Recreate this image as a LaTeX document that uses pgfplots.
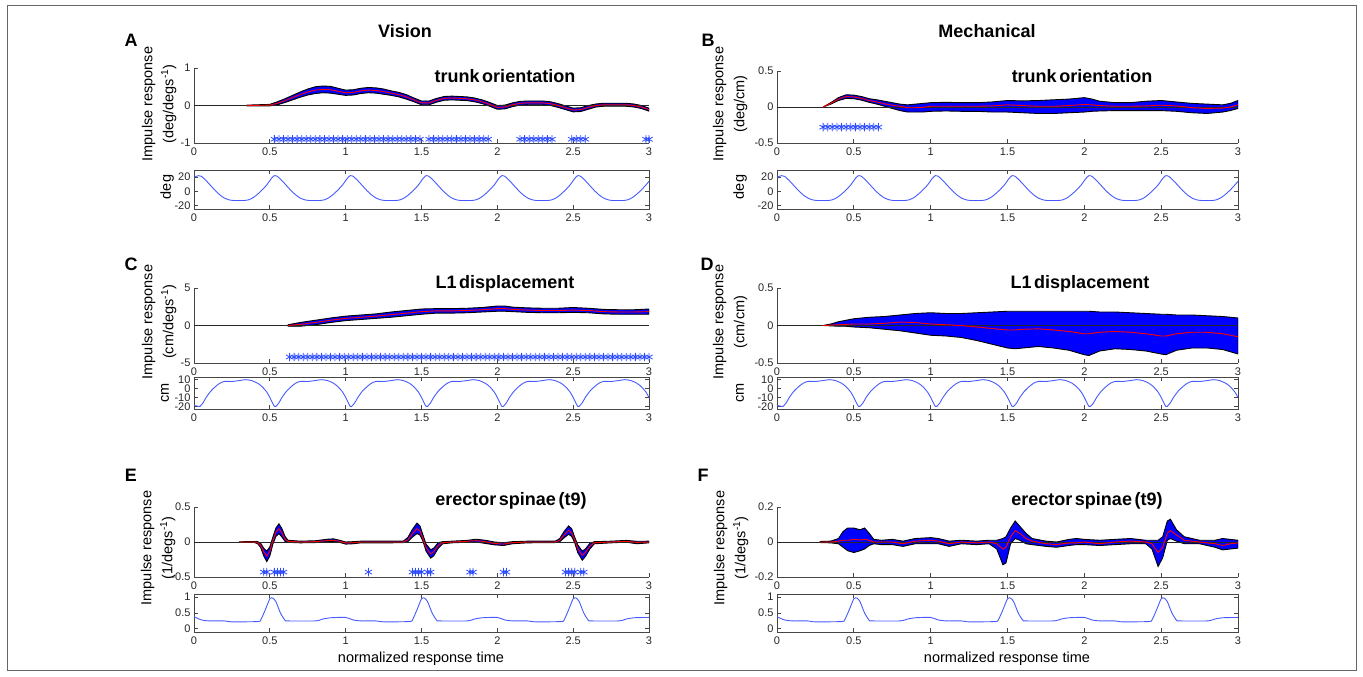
\documentclass[border=0pt]{standalone}
\usepackage{fontspec}
\setmainfont{Liberation Sans}
\usepackage{pgfplots}
\usepackage{pgfplotstable}
\pgfplotsset{compat=1.18}

\definecolor{bandblue}{RGB}{0,0,255}
\definecolor{stimblue}{RGB}{70,90,255}
\definecolor{starblue}{RGB}{45,75,255}
\definecolor{axisgray}{RGB}{70,70,70}

% stimulus traces (same in both columns)
\pgfplotstableread{
x y
0 20
0.03 22
0.05 21
0.08 15
0.11 8
0.14 1
0.17 -5
0.20 -9.5
0.23 -12
0.26 -13
0.33 -13
0.36 -12
0.39 -9
0.42 -4
0.45 2
0.48 9
0.51 18
0.53 22
0.55 21
0.58 15
0.61 8
0.64 1
0.67 -5
0.70 -9.5
0.73 -12
0.76 -13
0.83 -13
0.86 -12
0.89 -9
0.92 -4
0.95 2
0.98 9
1.01 18
1.03 22
1.05 21
1.08 15
1.11 8
1.14 1
1.17 -5
1.20 -9.5
1.23 -12
1.26 -13
1.33 -13
1.36 -12
1.39 -9
1.42 -4
1.45 2
1.48 9
1.51 18
1.53 22
1.55 21
1.58 15
1.61 8
1.64 1
1.67 -5
1.70 -9.5
1.73 -12
1.76 -13
1.83 -13
1.86 -12
1.89 -9
1.92 -4
1.95 2
1.98 9
2.01 18
2.03 22
2.05 21
2.08 15
2.11 8
2.14 1
2.17 -5
2.20 -9.5
2.23 -12
2.26 -13
2.33 -13
2.36 -12
2.39 -9
2.42 -4
2.45 2
2.48 9
2.51 18
2.53 22
2.55 21
2.58 15
2.61 8
2.64 1
2.67 -5
2.70 -9.5
2.73 -12
2.76 -13
2.83 -13
2.86 -12
2.89 -9
2.92 -4
2.95 2
2.98 9
3.00 14
}\stimdeg

\pgfplotstableread{
x y
0 -19
0.03 -20
0.04 -20
0.06 -16
0.08 -10
0.11 -3
0.14 2
0.17 6
0.20 8
0.25 8
0.30 9
0.34 10
0.38 9
0.42 6
0.45 2
0.48 -4
0.50 -10
0.52 -17
0.53 -20
0.54 -20
0.56 -16
0.58 -10
0.61 -3
0.64 2
0.67 6
0.70 8
0.75 8
0.80 9
0.84 10
0.88 9
0.92 6
0.95 2
0.98 -4
1.00 -10
1.02 -17
1.03 -20
1.04 -20
1.06 -16
1.08 -10
1.11 -3
1.14 2
1.17 6
1.20 8
1.25 8
1.30 9
1.34 10
1.38 9
1.42 6
1.45 2
1.48 -4
1.50 -10
1.52 -17
1.53 -20
1.54 -20
1.56 -16
1.58 -10
1.61 -3
1.64 2
1.67 6
1.70 8
1.75 8
1.80 9
1.84 10
1.88 9
1.92 6
1.95 2
1.98 -4
2.00 -10
2.02 -17
2.03 -20
2.04 -20
2.06 -16
2.08 -10
2.11 -3
2.14 2
2.17 6
2.20 8
2.25 8
2.30 9
2.34 10
2.38 9
2.42 6
2.45 2
2.48 -4
2.50 -10
2.52 -17
2.53 -20
2.54 -20
2.56 -16
2.58 -10
2.61 -3
2.64 2
2.67 6
2.70 8
2.75 8
2.80 9
2.84 10
2.88 9
2.92 6
2.95 2
2.98 -4
3.00 -10
}\stimcm

\pgfplotstableread{
x y
0 0.38
0.05 0.28
0.10 0.25
0.20 0.25
0.25 0.22
0.42 0.23
0.44 0.28
0.47 0.60
0.50 0.95
0.52 0.97
0.54 0.86
0.57 0.50
0.60 0.27
0.62 0.25
0.80 0.25
0.85 0.31
0.90 0.35
1.00 0.36
1.05 0.28
1.10 0.25
1.20 0.25
1.25 0.22
1.42 0.23
1.44 0.28
1.47 0.60
1.50 0.95
1.52 0.97
1.54 0.86
1.57 0.50
1.60 0.27
1.62 0.25
1.80 0.25
1.85 0.31
1.90 0.35
2.00 0.36
2.05 0.28
2.10 0.25
2.20 0.25
2.25 0.22
2.42 0.23
2.44 0.28
2.47 0.60
2.50 0.95
2.52 0.97
2.54 0.86
2.57 0.50
2.60 0.27
2.62 0.25
2.80 0.25
2.85 0.31
2.90 0.35
3.00 0.36
}\stimemg

% impulse responses: mean and band
\pgfplotstableread{
x m lo hi
0.35 0.00 -0.01 0.01
0.50 0.01 -0.01 0.03
0.55 0.06 0.02 0.10
0.60 0.13 0.08 0.18
0.65 0.21 0.15 0.27
0.70 0.29 0.22 0.36
0.75 0.36 0.28 0.44
0.80 0.41 0.32 0.50
0.85 0.43 0.34 0.52
0.90 0.42 0.33 0.51
0.95 0.38 0.30 0.46
1.00 0.34 0.27 0.41
1.05 0.35 0.28 0.42
1.10 0.39 0.32 0.46
1.15 0.41 0.34 0.48
1.20 0.40 0.33 0.47
1.25 0.37 0.30 0.44
1.30 0.33 0.27 0.39
1.35 0.29 0.23 0.35
1.40 0.23 0.17 0.29
1.45 0.15 0.10 0.20
1.50 0.07 0.02 0.12
1.55 0.07 0.02 0.12
1.60 0.14 0.09 0.19
1.65 0.19 0.14 0.24
1.70 0.20 0.15 0.25
1.75 0.19 0.14 0.24
1.80 0.18 0.13 0.23
1.85 0.15 0.10 0.20
1.90 0.10 0.05 0.15
1.95 0.03 -0.02 0.08
2.00 -0.05 -0.10 0.00
2.05 -0.04 -0.09 0.01
2.10 0.02 -0.03 0.07
2.15 0.06 0.01 0.11
2.20 0.07 0.02 0.12
2.25 0.07 0.02 0.12
2.30 0.07 0.02 0.12
2.35 0.05 0.00 0.10
2.40 0.00 -0.05 0.05
2.45 -0.06 -0.11 -0.01
2.50 -0.12 -0.17 -0.07
2.55 -0.11 -0.16 -0.06
2.60 -0.05 -0.10 0.00
2.65 0.00 -0.04 0.04
2.70 0.02 -0.02 0.06
2.75 0.02 -0.02 0.06
2.80 0.02 -0.02 0.06
2.85 0.02 -0.02 0.06
2.90 0.00 -0.04 0.04
2.95 -0.04 -0.08 0.00
3.00 -0.11 -0.15 -0.07
}\dA

\pgfplotstableread{
x m lo hi
0.30 0.00 0.00 0.00
0.35 0.05 0.04 0.06
0.40 0.11 0.09 0.13
0.45 0.145 0.12 0.17
0.50 0.14 0.115 0.165
0.55 0.12 0.095 0.145
0.60 0.09 0.065 0.115
0.65 0.07 0.04 0.10
0.70 0.045 0.01 0.08
0.75 0.025 -0.02 0.06
0.80 0.01 -0.05 0.04
0.85 -0.01 -0.07 0.03
0.90 -0.01 -0.07 0.04
0.95 -0.005 -0.07 0.05
1.00 0.01 -0.06 0.06
1.10 0.01 -0.055 0.065
1.20 0.01 -0.06 0.06
1.30 0.01 -0.06 0.06
1.40 0.015 -0.07 0.07
1.50 0.03 -0.07 0.09
1.60 0.02 -0.08 0.085
1.70 0.01 -0.09 0.09
1.80 0.01 -0.09 0.10
1.90 0.02 -0.08 0.11
2.00 0.035 -0.07 0.13
2.05 0.03 -0.06 0.11
2.10 0.02 -0.055 0.08
2.20 0.01 -0.05 0.06
2.30 0.01 -0.05 0.06
2.40 0.015 -0.05 0.08
2.50 0.025 -0.05 0.09
2.60 0.015 -0.06 0.07
2.70 -0.01 -0.08 0.05
2.80 -0.02 -0.09 0.04
2.90 -0.015 -0.07 0.03
2.95 0.00 -0.05 0.05
3.00 0.03 -0.02 0.09
}\dB

\pgfplotstableread{
x m lo hi
0.62 0.00 -0.10 0.10
0.70 0.15 -0.10 0.40
0.80 0.40 0.10 0.70
0.90 0.70 0.40 1.00
1.00 0.95 0.65 1.25
1.10 1.10 0.80 1.40
1.20 1.25 0.95 1.55
1.30 1.45 1.10 1.80
1.40 1.65 1.30 2.00
1.50 1.85 1.50 2.20
1.60 1.95 1.65 2.25
1.70 1.95 1.65 2.25
1.80 2.00 1.70 2.30
1.90 2.10 1.80 2.40
2.00 2.25 1.90 2.60
2.05 2.25 1.90 2.60
2.10 2.15 1.85 2.45
2.20 2.05 1.75 2.35
2.30 2.00 1.70 2.30
2.40 2.00 1.70 2.30
2.50 2.05 1.75 2.40
2.60 2.00 1.70 2.30
2.70 1.85 1.55 2.15
2.80 1.80 1.50 2.10
2.90 1.80 1.50 2.10
3.00 1.85 1.50 2.20
}\dC

\pgfplotstableread{
x m lo hi
0.30 0.00 0.00 0.00
0.35 0.005 -0.005 0.02
0.40 0.01 -0.01 0.05
0.45 0.015 -0.01 0.07
0.50 0.02 -0.02 0.09
0.60 0.02 -0.03 0.11
0.70 0.03 -0.05 0.12
0.80 0.045 -0.07 0.14
0.90 0.04 -0.10 0.16
1.00 0.02 -0.13 0.17
1.10 0.01 -0.14 0.16
1.20 0.00 -0.16 0.16
1.30 -0.02 -0.20 0.17
1.40 -0.04 -0.25 0.18
1.50 -0.06 -0.30 0.19
1.55 -0.06 -0.31 0.19
1.60 -0.05 -0.30 0.19
1.70 -0.045 -0.28 0.19
1.80 -0.06 -0.30 0.19
1.90 -0.08 -0.33 0.19
2.00 -0.11 -0.39 0.19
2.03 -0.11 -0.40 0.19
2.10 -0.09 -0.34 0.18
2.20 -0.08 -0.31 0.18
2.30 -0.09 -0.32 0.17
2.40 -0.11 -0.34 0.16
2.50 -0.14 -0.38 0.15
2.53 -0.14 -0.39 0.15
2.60 -0.11 -0.33 0.14
2.70 -0.09 -0.30 0.14
2.80 -0.09 -0.30 0.13
2.90 -0.11 -0.32 0.12
3.00 -0.15 -0.38 0.10
}\dD

\pgfplotstableread{
x m lo hi
0.30 0.00 -0.003 0.003
0.40 0.00 -0.008 0.008
0.42 -0.01 -0.025 0.005
0.44 -0.05 -0.08 -0.02
0.46 -0.14 -0.20 -0.09
0.48 -0.20 -0.28 -0.13
0.50 -0.13 -0.20 -0.07
0.52 0.02 -0.03 0.07
0.54 0.14 0.08 0.20
0.56 0.19 0.12 0.26
0.58 0.13 0.07 0.19
0.60 0.04 0.01 0.08
0.62 0.01 -0.005 0.025
0.70 0.00 -0.012 0.012
0.80 0.005 -0.008 0.018
0.88 0.02 0.005 0.04
0.92 0.025 0.005 0.045
0.96 0.01 -0.005 0.025
1.00 -0.015 -0.03 0.00
1.05 -0.01 -0.025 0.005
1.10 0.00 -0.012 0.012
1.30 0.00 -0.012 0.012
1.38 0.00 -0.008 0.012
1.41 0.03 0.005 0.065
1.44 0.12 0.07 0.18
1.47 0.19 0.12 0.27
1.49 0.16 0.10 0.23
1.51 0.05 0.01 0.10
1.53 -0.08 -0.13 -0.03
1.56 -0.17 -0.23 -0.11
1.58 -0.14 -0.20 -0.09
1.61 -0.05 -0.09 -0.01
1.64 -0.01 -0.025 0.005
1.70 0.00 -0.012 0.012
1.80 0.01 -0.003 0.023
1.86 0.02 0.00 0.04
1.92 0.005 -0.02 0.025
1.98 -0.02 -0.04 0.00
2.04 -0.03 -0.05 -0.01
2.10 -0.01 -0.025 0.005
2.20 0.00 -0.012 0.012
2.38 0.00 -0.008 0.012
2.41 0.02 0.00 0.045
2.44 0.10 0.06 0.15
2.47 0.165 0.11 0.23
2.49 0.13 0.08 0.19
2.51 0.03 -0.01 0.07
2.53 -0.09 -0.15 -0.04
2.56 -0.19 -0.26 -0.13
2.58 -0.15 -0.21 -0.10
2.61 -0.06 -0.10 -0.02
2.64 -0.01 -0.025 0.005
2.75 0.00 -0.012 0.012
2.85 0.01 -0.003 0.023
2.92 -0.005 -0.025 0.01
3.00 0.00 -0.012 0.012
}\dE

\pgfplotstableread{
x m lo hi
0.28 0.00 -0.003 0.003
0.35 0.00 -0.005 0.005
0.40 0.005 -0.01 0.02
0.43 0.01 -0.03 0.06
0.46 0.01 -0.05 0.08
0.50 0.015 -0.06 0.08
0.54 0.012 -0.05 0.07
0.57 0.015 -0.04 0.08
0.60 0.01 -0.02 0.05
0.63 0.00 -0.01 0.015
0.68 0.00 -0.015 0.01
0.75 0.00 -0.015 0.015
0.82 -0.01 -0.025 0.005
0.90 0.005 -0.01 0.02
1.00 0.01 -0.01 0.025
1.05 0.005 -0.01 0.02
1.12 -0.01 -0.025 0.005
1.20 0.00 -0.01 0.01
1.30 -0.005 -0.015 0.005
1.38 0.00 -0.01 0.01
1.43 -0.01 -0.04 0.01
1.47 -0.04 -0.13 0.02
1.49 -0.03 -0.12 0.03
1.52 0.03 -0.01 0.08
1.55 0.065 0.02 0.12
1.58 0.05 0.01 0.09
1.62 0.02 -0.01 0.05
1.66 0.005 -0.015 0.02
1.75 -0.01 -0.025 0.005
1.82 -0.015 -0.03 0.00
1.90 -0.005 -0.02 0.015
1.95 -0.005 -0.015 0.02
2.00 0.00 -0.015 0.015
2.10 -0.01 -0.02 0.01
2.20 0.00 -0.015 0.015
2.30 0.005 -0.01 0.02
2.40 0.00 -0.01 0.01
2.44 -0.01 -0.04 0.01
2.48 -0.06 -0.14 0.01
2.51 -0.03 -0.09 0.03
2.54 0.05 0.01 0.12
2.56 0.065 0.02 0.13
2.60 0.04 0.005 0.07
2.65 0.01 -0.01 0.03
2.75 0.00 -0.01 0.01
2.85 -0.01 -0.03 0.01
2.90 -0.02 -0.045 0.02
2.95 -0.01 -0.04 0.015
3.00 -0.005 -0.035 0.01
}\dF

\pgfplotsset{
  panel/.style={scale only axis, xmin=0, xmax=3,
    xtick={0,0.5,1,1.5,2,2.5,3}, xticklabels={0,0.5,1,1.5,2,2.5,3},
    tick align=inside, major tick length=4pt,
    axis line style={axisgray, line width=0.8pt},
    every tick/.style={axisgray, line width=0.8pt},
    tick label style={font=\fontsize{11}{12}\selectfont, text=black!85},
    xticklabel style={yshift=-1.5pt}},
  resp/.style={panel, axis lines*=left, xtick pos=left, ytick pos=left},
  stim/.style={panel, tick pos=both},
  left col/.style={width=455pt},
  right col/.style={width=461pt},
  stars/.style={only marks, mark=asterisk, mark size=4.2pt, starblue,
    mark options={line width=0.8pt}},
  stimline/.style={stimblue, line width=0.9pt, smooth, tension=0.4},
}
% band = lo, then (hi - lo) stacked on it and closed back to lo
\newcommand{\band}[1]{%
  \addplot[draw=none, stack plots=y, forget plot] table[x=x,y=lo]{#1};
  \addplot[fill=bandblue, draw=black, line width=0.9pt, stack plots=y]
    table[x=x, y expr=\thisrow{hi}-\thisrow{lo}]{#1} \closedcycle;
  \addplot[black!85, line width=0.8pt, stack plots=false] coordinates {(0,0) (3,0)};
  \addplot[red, line width=0.9pt, stack plots=false] table[x=x,y=m]{#1};
}
\newcommand{\ttl}{\fontsize{18}{20}\selectfont\bfseries\spaceskip=0.14em\relax}
\newcommand{\lbl}{\fontsize{14.5}{21}\selectfont}

\begin{document}
\begin{tikzpicture}
\path (0,0) rectangle (1363pt,-677pt);
\draw[black!60, line width=1pt] (7pt,-6pt) rectangle (1356pt,-670pt);

% ---------------- A ----------------
\begin{axis}[resp, left col, at={(194pt,-143pt)}, anchor=south west, height=75pt,
  ymin=-1, ymax=1, ytick={-1,0,1}, yticklabels={-1,0,1}]
\band{\dA}
\addplot[stars]
  coordinates {(0.53,-0.9)(0.56,-0.9)(0.59,-0.9)(0.62,-0.9)(0.65,-0.9)(0.68,-0.9)(0.71,-0.9)
  (0.74,-0.9)(0.77,-0.9)(0.80,-0.9)(0.83,-0.9)(0.86,-0.9)(0.89,-0.9)(0.92,-0.9)(0.95,-0.9)
  (0.98,-0.9)(1.01,-0.9)(1.04,-0.9)(1.07,-0.9)(1.10,-0.9)(1.13,-0.9)(1.16,-0.9)(1.19,-0.9)
  (1.22,-0.9)(1.25,-0.9)(1.28,-0.9)(1.31,-0.9)(1.34,-0.9)(1.37,-0.9)(1.40,-0.9)(1.43,-0.9)
  (1.46,-0.9)(1.49,-0.9)(1.55,-0.9)(1.58,-0.9)(1.61,-0.9)(1.64,-0.9)(1.67,-0.9)(1.70,-0.9)
  (1.73,-0.9)(1.76,-0.9)(1.79,-0.9)(1.82,-0.9)(1.85,-0.9)(1.88,-0.9)(1.91,-0.9)(1.94,-0.9)
  (2.15,-0.9)(2.18,-0.9)(2.21,-0.9)(2.24,-0.9)(2.27,-0.9)(2.30,-0.9)(2.33,-0.9)(2.36,-0.9)
  (2.49,-0.9)(2.52,-0.9)(2.55,-0.9)(2.58,-0.9)(2.98,-0.9)(3.00,-0.9)};
\end{axis}
\begin{axis}[stim, left col, at={(194pt,-209pt)}, anchor=south west, height=39pt,
  ymin=-25, ymax=30, ytick={-20,0,20}, yticklabels={-20,0,20}]
\addplot[stimline] table[x=x,y=y]{\stimdeg};
\end{axis}

% ---------------- B ----------------
\begin{axis}[resp, right col, at={(777pt,-143pt)}, anchor=south west, height=72pt,
  ymin=-0.5, ymax=0.5, ytick={-0.5,0,0.5}, yticklabels={-0.5,0,0.5}]
\band{\dB}
\addplot[stars]
  coordinates {(0.30,-0.28)(0.33,-0.28)(0.36,-0.28)(0.39,-0.28)(0.42,-0.28)(0.45,-0.28)
  (0.48,-0.28)(0.51,-0.28)(0.54,-0.28)(0.57,-0.28)(0.60,-0.28)(0.63,-0.28)(0.66,-0.28)};
\end{axis}
\begin{axis}[stim, right col, at={(777pt,-209pt)}, anchor=south west, height=39pt,
  ymin=-25, ymax=30, ytick={-20,0,20}, yticklabels={-20,0,20}]
\addplot[stimline] table[x=x,y=y]{\stimdeg};
\end{axis}

% ---------------- C ----------------
\begin{axis}[resp, left col, at={(194pt,-363pt)}, anchor=south west, height=75pt,
  ymin=-5, ymax=5, ytick={-5,0,5}, yticklabels={-5,0,5}]
\band{\dC}
\addplot[stars]
  coordinates {(0.63,-4.2)(0.66,-4.2)(0.69,-4.2)(0.72,-4.2)(0.75,-4.2)(0.78,-4.2)(0.81,-4.2)
  (0.84,-4.2)(0.87,-4.2)(0.90,-4.2)(0.93,-4.2)(0.96,-4.2)(0.99,-4.2)(1.02,-4.2)(1.05,-4.2)
  (1.08,-4.2)(1.11,-4.2)(1.14,-4.2)(1.17,-4.2)(1.20,-4.2)(1.23,-4.2)(1.26,-4.2)(1.29,-4.2)
  (1.32,-4.2)(1.35,-4.2)(1.38,-4.2)(1.41,-4.2)(1.44,-4.2)(1.47,-4.2)(1.50,-4.2)(1.53,-4.2)
  (1.56,-4.2)(1.59,-4.2)(1.62,-4.2)(1.65,-4.2)(1.68,-4.2)(1.71,-4.2)(1.74,-4.2)(1.77,-4.2)
  (1.80,-4.2)(1.83,-4.2)(1.86,-4.2)(1.89,-4.2)(1.92,-4.2)(1.95,-4.2)(1.98,-4.2)(2.01,-4.2)
  (2.04,-4.2)(2.07,-4.2)(2.10,-4.2)(2.13,-4.2)(2.16,-4.2)(2.19,-4.2)(2.22,-4.2)(2.25,-4.2)
  (2.28,-4.2)(2.31,-4.2)(2.34,-4.2)(2.37,-4.2)(2.40,-4.2)(2.43,-4.2)(2.46,-4.2)(2.49,-4.2)
  (2.52,-4.2)(2.55,-4.2)(2.58,-4.2)(2.61,-4.2)(2.64,-4.2)(2.67,-4.2)(2.70,-4.2)(2.73,-4.2)
  (2.76,-4.2)(2.79,-4.2)(2.82,-4.2)(2.85,-4.2)(2.88,-4.2)(2.91,-4.2)(2.94,-4.2)(2.97,-4.2)
  (3.00,-4.2)};
\end{axis}
\begin{axis}[stim, left col, at={(194pt,-409pt)}, anchor=south west, height=32pt,
  ymin=-23, ymax=13, ytick={-20,-10,0,10}, yticklabels={-20,-10,0,10}]
\addplot[stimline] table[x=x,y=y]{\stimcm};
\end{axis}

% ---------------- D ----------------
\begin{axis}[resp, right col, at={(777pt,-363pt)}, anchor=south west, height=75pt,
  ymin=-0.5, ymax=0.5, ytick={-0.5,0,0.5}, yticklabels={-0.5,0,0.5}]
\band{\dD}
\end{axis}
\begin{axis}[stim, right col, at={(777pt,-409pt)}, anchor=south west, height=32pt,
  ymin=-23, ymax=13, ytick={-20,-10,0,10}, yticklabels={-20,-10,0,10}]
\addplot[stimline] table[x=x,y=y]{\stimcm};
\end{axis}

% ---------------- E ----------------
\begin{axis}[resp, left col, at={(194pt,-577pt)}, anchor=south west, height=70pt,
  ymin=-0.5, ymax=0.5, ytick={-0.5,0,0.5}, yticklabels={-0.5,0,0.5}]
\band{\dE}
\addplot[stars]
  coordinates {(0.46,-0.43)(0.48,-0.43)(0.53,-0.43)(0.55,-0.43)(0.57,-0.43)(0.59,-0.43)
  (1.15,-0.43)(1.44,-0.43)(1.46,-0.43)(1.48,-0.43)(1.50,-0.43)(1.54,-0.43)(1.56,-0.43)
  (1.82,-0.43)(1.84,-0.43)(2.04,-0.43)(2.06,-0.43)(2.45,-0.43)(2.47,-0.43)(2.49,-0.43)
  (2.51,-0.43)(2.55,-0.43)(2.57,-0.43)};
\end{axis}
\begin{axis}[stim, left col, at={(194pt,-632pt)}, anchor=south west, height=38pt,
  ymin=-0.1, ymax=1.1, ytick={0,0.5,1}, yticklabels={0,0.5,1}]
\addplot[stimline] table[x=x,y=y]{\stimemg};
\end{axis}

% ---------------- F ----------------
\begin{axis}[resp, right col, at={(777pt,-577pt)}, anchor=south west, height=70pt,
  ymin=-0.2, ymax=0.2, ytick={-0.2,0,0.2}, yticklabels={-0.2,0,0.2}]
\band{\dF}
\end{axis}
\begin{axis}[stim, right col, at={(777pt,-632pt)}, anchor=south west, height=38pt,
  ymin=-0.1, ymax=1.1, ytick={0,0.5,1}, yticklabels={0,0.5,1}]
\addplot[stimline] table[x=x,y=y]{\stimemg};
\end{axis}

% ---------------- text ----------------
\node[font=\ttl] at (405pt,-31pt) {Vision};
\node[font=\ttl] at (987pt,-31pt) {Mechanical};
\node[font=\ttl] at (131pt,-40pt) {A};
\node[font=\ttl] at (708pt,-40pt) {B};
\node[font=\ttl] at (131pt,-264pt) {C};
\node[font=\ttl] at (707pt,-264pt) {D};
\node[font=\ttl] at (131pt,-475pt) {E};
\node[font=\ttl] at (703pt,-475pt) {F};

\node[font=\ttl] at (505pt,-76pt) {trunk orientation};
\node[font=\ttl] at (1082pt,-76pt) {trunk orientation};
\node[font=\ttl] at (505pt,-284pt) {L1 displacement};
\node[font=\ttl] at (1080pt,-284pt) {L1 displacement};
\node[font=\ttl] at (511pt,-501pt) {erector spinae (t9)};
\node[font=\ttl] at (1087pt,-501pt) {erector spinae (t9)};

\node[font=\lbl, rotate=90, align=center] at (159pt,-104pt) {Impulse response\\(deg/degs\textsuperscript{-1})};
\node[font=\lbl, rotate=90, align=center] at (730pt,-104pt) {Impulse response\\(deg/cm)};
\node[font=\lbl, rotate=90, align=center] at (159pt,-322pt) {Impulse response\\(cm/degs\textsuperscript{-1})};
\node[font=\lbl, rotate=90, align=center] at (730pt,-322pt) {Impulse response\\(cm/cm)};
\node[font=\lbl, rotate=90, align=center] at (158pt,-548pt) {Impulse response\\(1/degs\textsuperscript{-1})};
\node[font=\lbl, rotate=90, align=center] at (731pt,-548pt) {Impulse response\\(1/degs\textsuperscript{-1})};

\node[font=\lbl, rotate=90] at (167pt,-187pt) {deg};
\node[font=\lbl, rotate=90] at (740pt,-187pt) {deg};
\node[font=\lbl, rotate=90] at (165pt,-393pt) {cm};
\node[font=\lbl, rotate=90] at (740pt,-393pt) {cm};

\node[font=\lbl] at (421pt,-659pt) {normalized response time};
\node[font=\lbl] at (1007pt,-659pt) {normalized response time};
\end{tikzpicture}
\end{document}
